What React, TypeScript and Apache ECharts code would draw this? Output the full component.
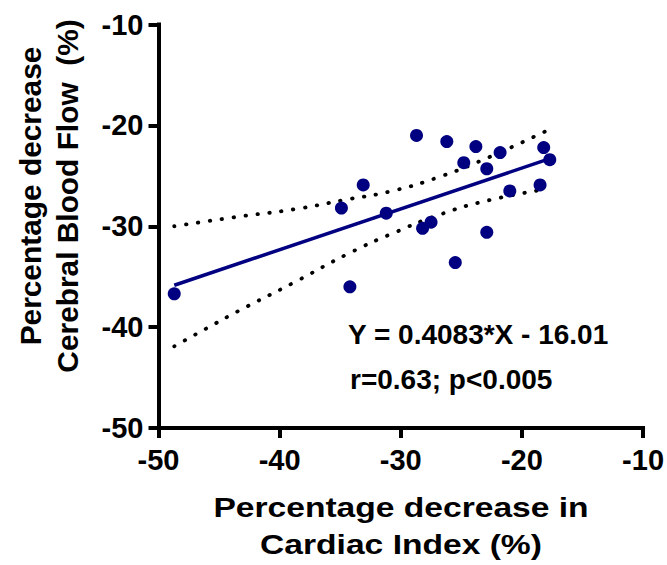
import React, { useEffect, useRef } from "react";
import * as echarts from "echarts";

// Data
const cardiacIndex = [-48.7, -34.2, -34.9, -33.1, -31.2, -28.7, -28.2, -27.5, -26.2, -25.5, -24.8, -23.8, -22.9, -22.9, -21.8, -21.0, -18.5, -18.2, -17.7];
const cerebralFlow = [-36.7, -36.0, -28.2, -25.9, -28.7, -21.0, -30.2, -29.6, -21.6, -33.6, -23.7, -22.1, -24.3, -30.6, -22.7, -26.5, -25.9, -22.2, -23.4];

const regX = [-48.7, -17.7];
const regY = [-35.85, -23.3];

const upperX = [-48.7, -43.7, -38.7, -34.7, -30.7, -26.8, -23.0, -17.9];
const upperY = [-30.0, -29.1, -28.3, -27.4, -26.5, -25.1, -23.3, -20.5];

const lowerX = [-48.7, -46.0, -43.4, -38.85, -34.3, -30.66, -26.9, -23.0, -17.9];
const lowerY = [-41.9, -40.1, -38.4, -35.6, -32.7, -30.7, -28.9, -27.5, -26.3];

const axisMin = -50;
const axisMax = -10;
const axisStep = 10;

const xTitle = ["Percentage decrease in", "Cardiac Index (%)"];
const yTitle = ["Percentage decrease", "Cerebral Blood Flow  (%)"];
const equationText = "Y = 0.4083*X - 16.01";
const statsText = "r=0.63; p<0.005";

const FONT = "'Liberation Sans', Arial, Helvetica, sans-serif";
const NAVY = "#000080";

const zip = (xs: number[], ys: number[]) => xs.map((x, i) => [x, ys[i]]);

export default function App() {
  const ref = useRef<HTMLDivElement | null>(null);

  useEffect(() => {
    if (!ref.current) return;
    const chart = echarts.init(ref.current, null, { renderer: "svg" });

    const axisCommon = {
      type: "value" as const,
      min: axisMin,
      max: axisMax,
      interval: axisStep,
      splitLine: { show: false },
      axisLine: { show: true, onZero: false, lineStyle: { color: "#000", width: 4, cap: "square" } },
      axisTick: { show: true, inside: false, length: 10, lineStyle: { color: "#000", width: 4 } },
      axisLabel: {
        color: "#000",
        fontSize: 29,
        fontWeight: "bold" as const,
        fontFamily: FONT,
      },
    };

    chart.setOption({
      animation: false,
      backgroundColor: "#fff",
      grid: { left: 158.5, top: 24.5, right: 22.5, bottom: 137, containLabel: false },
      xAxis: { ...axisCommon, axisLabel: { ...axisCommon.axisLabel, margin: 17 } },
      yAxis: { ...axisCommon, axisLabel: { ...axisCommon.axisLabel, margin: 15 } },
      graphic: [
        {
          type: "text",
          x: 401,
          y: 526,
          scaleX: 1.2,
          style: {
            text: xTitle.join("\n"),
            fontSize: 28,
            fontWeight: "bold",
            fontFamily: FONT,
            fill: "#000",
            align: "center",
            verticalAlign: "middle",
            lineHeight: 37,
          },
        },
        {
          type: "text",
          x: 49,
          y: 196,
          rotation: Math.PI / 2,
          scaleX: 1.03,
          style: {
            text: yTitle.join("\n"),
            fontSize: 29,
            fontWeight: "bold",
            fontFamily: FONT,
            fill: "#000",
            align: "center",
            verticalAlign: "middle",
            lineHeight: 37,
          },
        },
        {
          type: "text",
          x: 348,
          y: 334,
          style: {
            text: equationText,
            fontSize: 28,
            fontWeight: "bold",
            fontFamily: FONT,
            fill: "#000",
            align: "left",
            verticalAlign: "middle",
          },
        },
        {
          type: "text",
          x: 350,
          y: 379,
          style: {
            text: statsText,
            fontSize: 28,
            fontWeight: "bold",
            fontFamily: FONT,
            fill: "#000",
            align: "left",
            verticalAlign: "middle",
          },
        },
      ],
      series: [
        {
          type: "line",
          data: zip(upperX, upperY),
          smooth: true,
          showSymbol: false,
          symbol: "none",
          lineStyle: { color: "#000", width: 3.8, type: [0.5, 11.5], cap: "round" },
          z: 2,
        },
        {
          type: "line",
          data: zip(lowerX, lowerY),
          smooth: true,
          showSymbol: false,
          symbol: "none",
          lineStyle: { color: "#000", width: 3.8, type: [0.5, 11.5], cap: "round" },
          z: 2,
        },
        {
          type: "line",
          data: zip(regX, regY),
          showSymbol: false,
          symbol: "none",
          lineStyle: { color: NAVY, width: 3.5 },
          z: 3,
        },
        {
          type: "scatter",
          data: zip(cardiacIndex, cerebralFlow),
          symbol: "circle",
          symbolSize: 13,
          itemStyle: { color: NAVY, opacity: 1 },
          z: 4,
        },
      ],
    });

    return () => chart.dispose();
  }, []);

  return (
    <div
      ref={ref}
      style={{ position: "fixed", left: 0, top: 0, width: 667, height: 565, background: "#fff" }}
    />
  );
}
